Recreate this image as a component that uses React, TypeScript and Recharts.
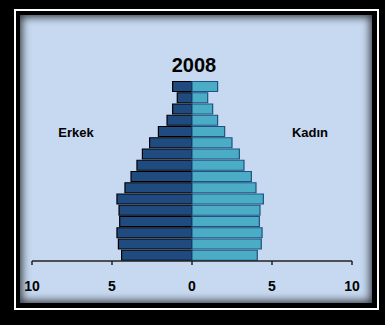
import React from 'react';
import { BarChart, Bar, XAxis, YAxis } from 'recharts';

// age groups, youngest first (drawn bottom-up)
const ageGroups = ['0-4', '5-9', '10-14', '15-19', '20-24', '25-29', '30-34', '35-39', '40-44', '45-49', '50-54', '55-59', '60-64', '65-69', '70-74', '75+'];
const erkek = [4.4, 4.6, 4.69, 4.52, 4.56, 4.69, 4.19, 3.81, 3.44, 3.1, 2.65, 2.1, 1.56, 1.21, 0.92, 1.21];
const kadin = [4.08, 4.33, 4.38, 4.21, 4.25, 4.46, 4.0, 3.71, 3.25, 2.96, 2.5, 2.04, 1.6, 1.29, 0.98, 1.6];
const xTicks = [-10, -5, 0, 5, 10];

const data = ageGroups.map((age, i) => ({ age, erkek: -erkek[i], kadin: kadin[i] }));

const font = '"Liberation Sans", Arial, sans-serif';

export default function App() {
  return (
    <div style={{ position: 'absolute', left: 0, top: 0, width: 385, height: 325, background: '#000', overflow: 'hidden' }}>
      <div style={{ position: 'absolute', left: 14, top: 9, width: 361, height: 297, border: '2px solid #fff' }} />
      <div
        style={{
          position: 'absolute', left: 20, top: 15, width: 352, height: 288,
          background: '#c6d9f0', boxShadow: 'inset 0 0 9px 2px rgba(0,0,0,0.75)',
        }}
      />
      <div style={{ position: 'absolute', left: 0, top: 0 }}>
        <BarChart
          width={385}
          height={325}
          data={data}
          layout="vertical"
          stackOffset="sign"
          barCategoryGap={0.5}
          margin={{ top: 81, right: 33, bottom: 24, left: 32 }}
        >
          <XAxis
            type="number"
            domain={[-10, 10]}
            ticks={xTicks}
            tickFormatter={(v: number) => String(Math.abs(v))}
            height={40}
            tickSize={4}
            tickMargin={16}
            axisLine={{ stroke: '#222', strokeWidth: 1.5 }}
            tickLine={{ stroke: '#222', strokeWidth: 1.5 }}
            tick={{ fill: '#000', fontSize: 14, fontWeight: 'bold', fontFamily: font }}
          />
          <YAxis type="category" dataKey="age" reversed hide />
          <Bar dataKey="erkek" stackId="p" fill="#1f4b80" stroke="#000" strokeWidth={1.2} isAnimationActive={false} />
          <Bar dataKey="kadin" stackId="p" fill="#4bacc6" stroke="#1f5282" strokeWidth={1.2} isAnimationActive={false} />
        </BarChart>
      </div>
      <svg width={385} height={325} style={{ position: 'absolute', left: 0, top: 0, pointerEvents: 'none' }}>
        <text x={194} y={72} textAnchor="middle" fontFamily={font} fontWeight="bold" fontSize={20} fill="#000">2008</text>
        <text x={76} y={137} textAnchor="middle" fontFamily={font} fontWeight="bold" fontSize={13} fill="#000">Erkek</text>
        <text x={310} y={137} textAnchor="middle" fontFamily={font} fontWeight="bold" fontSize={13} fill="#000">Kadın</text>
      </svg>
    </div>
  );
}
